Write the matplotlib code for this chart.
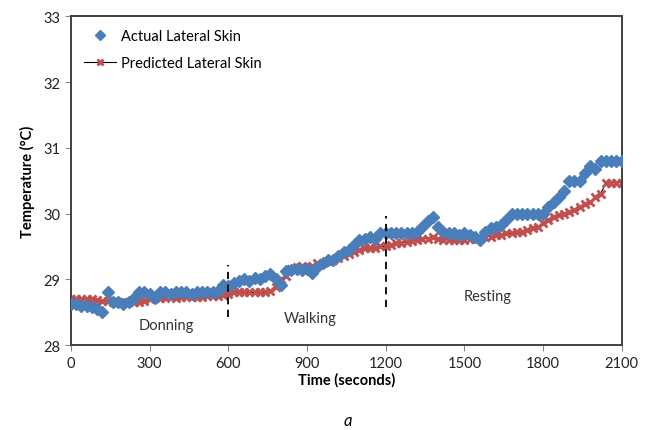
import numpy as np
import matplotlib
matplotlib.use("Agg")
import matplotlib.pyplot as plt

plt.rcParams['font.family'] = ['Lato', 'DejaVu Sans']

# sample times (seconds), every 20 s
time_s = np.arange(0, 2101, 20)

actual_skin = [
    28.63, 28.62, 28.60, 28.60, 28.58, 28.55, 28.50, 28.80, 28.65, 28.65,
    28.63, 28.66, 28.72, 28.80, 28.80, 28.78, 28.72, 28.80, 28.80, 28.78,
    28.80, 28.80, 28.80, 28.78, 28.80, 28.80, 28.80, 28.80, 28.82, 28.92,
    28.90, 28.95, 28.98, 29.00, 28.98, 29.02, 29.00, 29.05, 29.08, 29.00,
    28.92, 29.12, 29.14, 29.15, 29.14, 29.16, 29.10, 29.18, 29.25, 29.30,
    29.30, 29.35, 29.42, 29.45, 29.52, 29.60, 29.62, 29.65, 29.62, 29.70,
    29.70, 29.70, 29.70, 29.70, 29.70, 29.70, 29.72, 29.80, 29.88, 29.95,
    29.80, 29.72, 29.70, 29.70, 29.68, 29.70, 29.68, 29.65, 29.60, 29.72,
    29.78, 29.80, 29.82, 29.90, 30.00, 30.00, 30.00, 30.00, 30.00, 30.00,
    30.00, 30.10, 30.18, 30.25, 30.35, 30.50, 30.50, 30.50, 30.62, 30.72,
    30.68, 30.80, 30.80, 30.80, 30.80, 30.80,
]

predicted_skin = [
    28.70, 28.70, 28.70, 28.70, 28.70, 28.68, 28.67, 28.67, 28.66, 28.66,
    28.66, 28.66, 28.66, 28.66, 28.67, 28.70, 28.72, 28.72, 28.72, 28.73,
    28.72, 28.73, 28.73, 28.73, 28.73, 28.73, 28.74, 28.74, 28.75, 28.76,
    28.78, 28.80, 28.80, 28.80, 28.80, 28.80, 28.80, 28.80, 28.82, 28.88,
    29.00, 29.05, 29.15, 29.18, 29.20, 29.18, 29.20, 29.25, 29.25, 29.28,
    29.30, 29.33, 29.35, 29.38, 29.42, 29.45, 29.47, 29.48, 29.48, 29.50,
    29.50, 29.52, 29.55, 29.55, 29.57, 29.58, 29.60, 29.62, 29.62, 29.65,
    29.62, 29.60, 29.60, 29.60, 29.60, 29.60, 29.62, 29.62, 29.63, 29.65,
    29.65, 29.67, 29.68, 29.70, 29.70, 29.72, 29.72, 29.75, 29.78, 29.80,
    29.85, 29.90, 29.95, 29.98, 30.00, 30.02, 30.05, 30.10, 30.15, 30.18,
    30.25, 30.30, 30.47, 30.47, 30.47, 30.47,
]

# phase boundaries: (time, y bottom, y top)
phase_lines = [(600, 28.42, 29.22), (1200, 28.58, 29.97)]
phase_labels = ["Donning", "Walking", "Resting"]
phase_label_pos = [(363, 28.3), (913, 28.41), (1590, 28.75)]

blue = "#4a7ebb"
red = "#c0504d"

fig = plt.figure(figsize=(6.51, 4.31), dpi=100)
ax = fig.add_axes([0.109, 0.197, 0.846, 0.763])

ax.plot(time_s, predicted_skin, color="black", lw=0.8, marker="x",
        markersize=6, markeredgecolor=red, markeredgewidth=2.0,
        label="Predicted Lateral Skin", zorder=2)
ax.plot(time_s, actual_skin, linestyle="none", marker="D", markersize=6,
        color=blue, markeredgecolor=blue, label="Actual Lateral Skin", zorder=3)

for t, y0, y1 in phase_lines:
    ax.plot([t, t], [y0, y1], color="black", lw=1.3, ls=(0, (4, 3)), zorder=4)

for name, (t, y) in zip(phase_labels, phase_label_pos):
    ax.text(t, y, name, ha="center", va="center", fontsize=10.5, color="#333333")

ax.set_xlim(0, 2100)
ax.set_ylim(28, 33)
ax.set_xticks(range(0, 2101, 300))
ax.set_yticks(range(28, 34))
ax.tick_params(direction="out", length=4, width=0.8, color="#888888",
               labelsize=10.5, labelcolor="#222222")
for sp in ax.spines.values():
    sp.set_color("#404040")
    sp.set_linewidth(1.4)

ax.set_xlabel("Time (seconds)", fontsize=10.5, fontweight="bold", labelpad=2)
ax.set_ylabel("Temperature (°C)", fontsize=10.5, fontweight="bold", labelpad=6)

handles, labels = ax.get_legend_handles_labels()
leg = ax.legend(handles[::-1], labels[::-1], loc="upper left",
                bbox_to_anchor=(0.0, 1.0), frameon=False, fontsize=10.5,
                handlelength=2.2, handletextpad=0.3, labelspacing=0.9)
leg.legend_handles[0].set_markersize(5)
leg.legend_handles[1].set_markersize(5)

fig.text(0.535, 0.012, "a", fontsize=12, style="italic", ha="center")

fig.savefig("out.png", dpi=100)
